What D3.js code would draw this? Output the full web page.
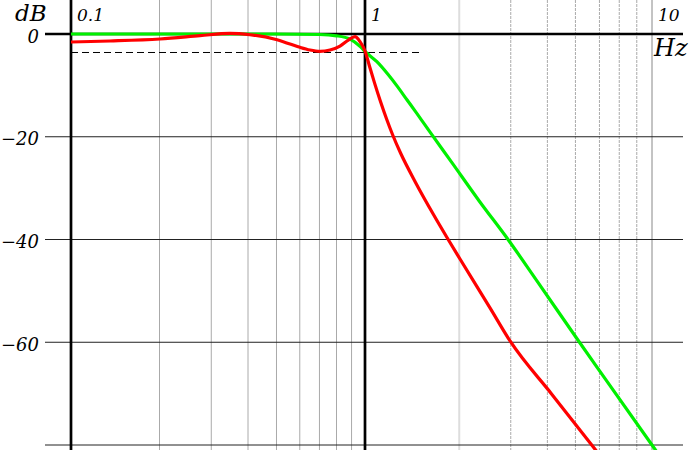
<!DOCTYPE html>
<html><head><meta charset="utf-8">
<script src="https://cdn.jsdelivr.net/npm/d3@7"></script>
<style>
html,body{margin:0;padding:0;background:#fff;}
svg{display:block;}
text{font-family:"DejaVu Serif",serif;font-style:italic;fill:#000;}
</style>
</head><body>
<svg id="chart" width="700" height="450"></svg>
<script>
// ---- data ----
const redFreq  = [0.1, 0.1357, 0.2007, 0.2746, 0.3475, 0.4063, 0.4945, 0.5558, 0.601, 0.65, 0.703, 0.7603, 0.8222, 0.8776, 0.9247, 0.9616, 1.0,
                  1.040, 1.080, 1.130, 1.190, 1.250, 1.330, 1.500, 1.730, 1.928, 2.143, 2.726, 3.219, 4.467, 6.166, 6.577];
const redDb    = [-1.56, -1.36, -0.97, -0.33, 0.14, -0.14, -1.03, -1.95, -2.59, -3.11, -3.37, -3.11, -2.34, -1.17, -0.53, -1.5, -3.31,
                  -6.53, -9.56, -12.99, -16.59, -19.71, -23.17, -28.89, -35.09, -39.56, -43.79, -53.3, -59.95, -70.06, -80.0, -82.0];
const greenFreq = [0.1, 0.3, 0.5, 0.7, 0.8, 0.889, 0.9616, 1.0,
                   1.1, 1.2, 1.3, 1.4, 1.5, 1.7, 2.0, 2.5, 3.16, 4.0, 5.58, 7.0, 10.0, 10.6];
const greenDb   = [0, 0, 0, -0.1, -0.35, -1.0, -2.4, -3.4,
                   -5.4, -7.8, -10.3, -12.8, -15.1, -19.4, -24.9, -32.5, -40.1, -48.3, -59.95, -67.75, -80.0, -82.0];

const majorFreq   = [0.1, 1];
const minorFreqA  = [0.2, 0.3, 0.4, 0.5, 0.6, 0.7, 0.8, 0.9];
const minorFreqB  = [2.13, 3.22, 4.32, 5.41, 6.56, 7.69, 8.85];
const decadeEnd   = [10];
const xTickValues = [0.1, 1, 10];
const xTickLabels = ["0.1", "1", "10"];
const dbGrid      = [0, -20, -40, -60, -80];
const yTickValues = [0, -20, -40, -60];
const yTickLabels = ["0", "−20", "−40", "−60"];
const cutoffDb    = -3.6;
const cutoffFreq  = [0.1, 1.546];
const xUnit = "Hz", yUnit = "dB";

// ---- scales ----
const svg = d3.select("#chart");
const x = d3.scaleLog().domain([0.1, 1, 10]).range([71, 365, 652]);
const y = d3.scaleLinear().domain([0, -80]).range([34, 445]);
const xLeft = 45, xRight = 683;

// minor vertical grid
svg.append("g").selectAll("line").data(minorFreqA).join("line")
  .attr("x1", d => x(d)).attr("x2", d => x(d)).attr("y1", 0).attr("y2", 450)
  .attr("stroke", "#aaa").attr("stroke-width", 1);
svg.append("g").selectAll("line").data(minorFreqB).join("line")
  .attr("x1", d => x(d)).attr("x2", d => x(d)).attr("y1", 0).attr("y2", 450)
  .attr("stroke", (d, i) => i === 0 ? "#ddd" : "#aaa")
  .attr("stroke-width", (d, i) => i === 0 ? 2 : 1)
  .attr("stroke-dasharray", (d, i) => i === 0 ? null : "3,1");
svg.append("g").selectAll("line").data(decadeEnd).join("line")
  .attr("x1", d => x(d)).attr("x2", d => x(d)).attr("y1", 0).attr("y2", 450)
  .attr("stroke", "#888").attr("stroke-width", 1);

// horizontal grid
svg.append("g").selectAll("line").data(dbGrid).join("line")
  .attr("x1", xLeft).attr("x2", xRight)
  .attr("y1", d => y(d)).attr("y2", d => y(d))
  .attr("stroke", d => d === 0 ? "#000" : "#222")
  .attr("stroke-width", d => d === 0 ? 2.5 : 1);

// major vertical lines
svg.append("g").selectAll("line").data(majorFreq).join("line")
  .attr("x1", d => x(d)).attr("x2", d => x(d)).attr("y1", 0).attr("y2", 450)
  .attr("stroke", "#000").attr("stroke-width", 2.7);

// cutoff dashed line
svg.append("line")
  .attr("x1", x(cutoffFreq[0])).attr("x2", x(cutoffFreq[1]))
  .attr("y1", y(cutoffDb)).attr("y2", y(cutoffDb))
  .attr("stroke", "#000").attr("stroke-width", 1).attr("stroke-dasharray", "7,4");

// curves
const line = d3.line().x(d => x(d[0])).y(d => y(d[1])).curve(d3.curveMonotoneX);
svg.append("path").datum(greenFreq.map((f, i) => [f, greenDb[i]]))
  .attr("d", line).attr("fill", "none").attr("stroke", "#00f000").attr("stroke-width", 3.2);
svg.append("path").datum(redFreq.map((f, i) => [f, redDb[i]]))
  .attr("d", line).attr("fill", "none").attr("stroke", "#ff0000").attr("stroke-width", 3.2);

// y labels via axis
const yAxis = d3.axisLeft(y).tickValues(yTickValues)
  .tickFormat((d, i) => yTickLabels[i]).tickSize(0).tickPadding(6);
const gy = svg.append("g").attr("transform", `translate(${xLeft},0)`).call(yAxis);
gy.select(".domain").remove();
gy.selectAll("text").attr("font-family", null).attr("font-size", null)
  .style("font-size", "18px").attr("dy", "0.45em");

// x labels
svg.append("g").selectAll("text").data(xTickValues).join("text")
  .attr("x", d => x(d) + 6).attr("y", 21)
  .style("font-size", "17px")
  .text((d, i) => xTickLabels[i]);

// unit labels
svg.append("text").attr("x", 15).attr("y", 21).style("font-size", "23px").text(yUnit);
svg.append("text").attr("x", 654).attr("y", 56).style("font-size", "24px").text(xUnit);
</script>
</body></html>
